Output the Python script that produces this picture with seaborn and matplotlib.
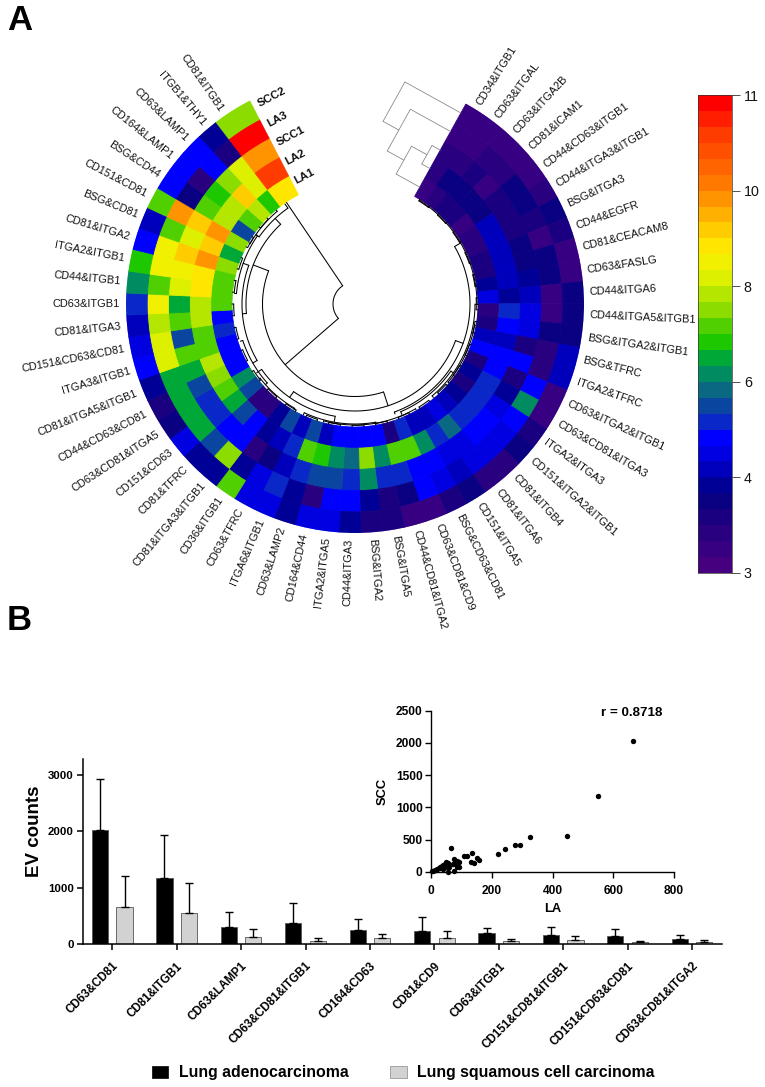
import numpy as np
import pandas as pd
import seaborn as sns
import matplotlib
matplotlib.use("Agg")
import matplotlib.pyplot as plt
from matplotlib.colors import FuncNorm, ListedColormap
from matplotlib.patches import Patch

# ---- panel A data: columns run clockwise from the gap at the top
combos = ["CD34&ITGB1", "CD63&ITGAL", "CD63&ITGA2B", "CD81&ICAM1", "CD44&CD63&ITGB1", "CD44&ITGA3&ITGB1",
          "BSG&ITGA3", "CD44&EGFR", "CD81&CEACAM8", "CD63&FASLG", "CD44&ITGA6", "CD44&ITGA5&ITGB1",
          "BSG&ITGA2&ITGB1", "BSG&TFRC", "ITGA2&TFRC", "CD63&ITGA2&ITGB1", "CD63&CD81&ITGA3", "ITGA2&ITGA3",
          "CD151&ITGA2&ITGB1", "CD81&ITGB4", "CD81&ITGA6", "CD151&ITGA5", "BSG&CD63&CD81", "CD63&CD81&CD9",
          "CD44&CD81&ITGA2", "BSG&ITGA5", "BSG&ITGA2", "CD44&ITGA3", "ITGA2&ITGA5", "CD164&CD44",
          "CD63&LAMP2", "ITGA6&ITGB1", "CD63&TFRC", "CD36&ITGB1", "CD81&ITGA3&ITGB1", "CD81&TFRC",
          "CD151&CD63", "CD63&CD81&ITGA5", "CD44&CD63&CD81", "CD81&ITGA5&ITGB1", "ITGA3&ITGB1",
          "CD151&CD63&CD81", "CD81&ITGA3", "CD63&ITGB1", "CD44&ITGB1", "ITGA2&ITGB1", "CD81&ITGA2",
          "BSG&CD81", "CD151&CD81", "BSG&CD44", "CD164&LAMP1", "CD63&LAMP1", "ITGB1&THY1", "CD81&ITGB1"]

la1 = [3.3, 3.4, 3.5, 3.5, 3.3, 3.4, 3.4, 3.5, 3.6, 3.9, 4.6, 3.4, 3.6, 4.0, 4.8, 3.6, 3.9, 3.5,
       3.9, 4.0, 4.5, 4.3, 4.0, 5.0, 3.6, 4.8, 4.9, 4.9, 4.9, 4.2, 5.5, 4.2, 5.5, 3.9, 3.4, 3.4,
       5.5, 6.3, 4.9, 4.9, 4.8, 5.3, 4.9, 7.0, 7.0, 7.1, 7.4, 6.5, 7.6, 5.5, 7.2, 7.9, 6.9, 8.9]
la2 = [3.4, 3.7, 3.8, 3.7, 3.7, 4.2, 4.3, 4.2, 4.2, 4.0, 3.9, 5.3, 4.8, 4.0, 4.7, 4.8, 5.0, 5.0,
       5.0, 5.2, 5.7, 5.0, 6.3, 7.2, 7.2, 6.3, 7.5, 5.7, 6.3, 6.7, 7.0, 5.0, 4.0, 3.9, 4.7, 5.5,
       6.5, 7.3, 7.4, 7.7, 7.0, 7.2, 7.9, 7.7, 8.7, 8.9, 9.8, 9.2, 9.7, 7.7, 7.7, 9.3, 8.3, 10.5]
scc1 = [3.4, 3.4, 3.5, 3.3, 3.5, 3.5, 3.6, 3.8, 3.8, 3.9, 4.0, 4.6, 4.5, 3.6, 4.7, 3.6, 3.9, 4.4,
        4.8, 4.9, 4.6, 4.6, 4.7, 4.9, 5.0, 5.1, 6.2, 5.0, 5.6, 5.6, 5.1, 4.3, 3.8, 3.4, 4.9, 4.9,
        5.0, 5.0, 5.5, 6.6, 7.0, 5.4, 7.2, 6.5, 8.0, 8.6, 9.3, 8.2, 9.1, 7.2, 6.9, 7.6, 8.1, 9.7]
la3 = [3.3, 3.3, 3.4, 3.4, 3.7, 3.7, 3.5, 3.3, 3.8, 3.8, 3.3, 3.3, 3.8, 3.4, 3.4, 4.7, 6.2, 4.7,
       4.6, 4.6, 4.4, 4.3, 4.6, 4.7, 3.8, 3.6, 3.9, 4.7, 4.7, 3.4, 3.9, 5.0, 4.6, 3.9, 7.5, 5.4,
       6.6, 6.6, 6.6, 6.6, 8.3, 8.3, 7.9, 8.6, 7.2, 8.5, 8.6, 7.2, 9.9, 3.8, 3.4, 4.7, 3.5, 10.9]
scc2 = [3.2, 3.2, 3.3, 3.3, 3.3, 3.4, 3.7, 3.6, 3.3, 3.3, 3.8, 3.8, 3.8, 4.0, 4.3, 3.2, 3.3, 3.6,
        3.7, 3.4, 3.4, 3.8, 3.5, 3.3, 3.3, 3.5, 3.5, 3.9, 4.4, 4.4, 3.9, 4.6, 4.6, 7.2, 3.9, 3.9,
        4.6, 3.7, 3.6, 3.9, 4.9, 4.6, 4.0, 5.3, 6.0, 6.9, 4.9, 4.0, 7.0, 4.9, 4.8, 4.8, 3.9, 7.4]
ring_names = ["LA1", "LA2", "SCC1", "LA3", "SCC2"]

# colorbar steps, bottom to top, and its unevenly spaced tick labels
heat_colors = ["#46007f", "#370082", "#280080", "#1a0080", "#0a0082", "#000096", "#0000bc", "#0000e0",
               "#0000ff", "#0a28c8", "#0a46a0", "#0a6882", "#008c60", "#00a838", "#1ec800", "#50d000",
               "#8cdc00", "#b4e600", "#dcf000", "#f0f000", "#ffe600", "#ffcc00", "#ffb000", "#ff9400",
               "#ff7800", "#ff6400", "#ff5000", "#ff3c00", "#ff1e00", "#ff0000"]
cbar_ticks = [3, 4, 6, 8, 10, 11]

# dendrogram of the columns: (angle1, angle2, radius, radius of end1, radius of end2)
col_tree = [(229, 326, 22, 92.5, 122.5), (162, 291, 92.5, 107, 109), (110, 215, 107, 115, 114),
            (60, 160, 115, 122, 117), (265, 317, 109, 113, 117), (240, 290, 113, 118, 119),
            (228, 252, 118, 120.5, 120.5), (275, 305, 119, 121, 121), (305, 325, 117, 120.5, 122),
            (190, 235, 114, 120, 120), (170, 205, 120, 122, 122), (125, 157, 117, 120, 120),
            (150, 195, 121, 122, 122), (32, 90, 122, 122.5, 122.5), (90, 140, 120, 122, 122),
            (100, 130, 121.5, 122.5, 122.5), (210, 232, 120.5, 122, 122), (300, 320, 121, 122.5, 122.5)]
# dendrogram of the rings: heights of the merges, innermost merge first
ring_merges = [("SCC1", "LA2", 9.5), (None, "LA1", 27), (None, "LA3", 46), (None, "SCC2", 64)]

# ---- panel B data
markers = ["CD63&CD81", "CD81&ITGB1", "CD63&LAMP1", "CD63&CD81&ITGB1", "CD164&CD63", "CD81&CD9", "CD63&ITGB1",
           "CD151&CD81&ITGB1", "CD151&CD63&CD81", "CD63&CD81&ITGA2"]
la_mean = [2020, 1180, 295, 365, 240, 237, 190, 160, 142, 95]
la_top = [2930, 1930, 565, 720, 435, 474, 290, 307, 266, 165]
scc_mean = [660, 555, 125, 60, 110, 100, 60, 70, 41, 30]
scc_top = [1210, 1090, 260, 105, 170, 237, 90, 150, 60, 65]

scatter_la = [664, 549, 447, 327, 293, 276, 244, 219, 157, 151, 142, 132, 136, 117, 110, 66, 93, 85, 77, 79,
              93, 85, 74, 77, 57, 49, 57, 55, 41, 30, 19, 8, 12, 25, 35, 45, 52, 60, 4, 15, 28, 38]
scatter_scc = [2025, 1183, 553, 542, 424, 424, 351, 274, 191, 222, 145, 150, 294, 248, 248, 367, 160, 176, 201,
               134, 83, 83, 124, 21, 134, 160, 57, 5, 108, 72, 46, 21, 30, 55, 95, 120, 100, 70, 8, 25, 60, 40]

W, H = 765, 1087
CX, CY = 355, 304
R_OUT, R_IN = 229, 123
START, STEP, END = 29, 5.54, 332.6


def box(x0, y0, x1, y1):
    # pixel box of the picture (y down) to figure fractions
    return [x0 / W, 1 - y1 / H, (x1 - x0) / W, (y1 - y0) / H]


def rows_to_polar(s, d):
    # position along the heatmap edge + distance away from it, as polar coords
    return np.radians(START) - np.arctan2(d, s), np.hypot(s, d)


sns.set_theme(style="ticks")
plt.rcParams["font.family"] = ["Liberation Sans", "DejaVu Sans"]

fig = plt.figure(figsize=(W / 100, H / 100), dpi=100)

# ---- circular heatmap
values = np.array([la1, la2, scc1, la3, scc2])
cmap = ListedColormap(heat_colors)
anchors_v = [3, 4, 6, 8, 10, 11]
anchors_p = [0, 0.2, 0.4, 0.6, 0.8, 1]
norm = FuncNorm((lambda v: np.interp(v, anchors_v, anchors_p), lambda p: np.interp(p, anchors_p, anchors_v)),
                vmin=3, vmax=11)

ax = fig.add_axes(box(CX - R_OUT, CY - R_OUT, CX + R_OUT, CY + R_OUT), projection="polar")
ax.set_theta_zero_location("N")
ax.set_theta_direction(-1)
n_col = len(combos)
edges = START + STEP * np.arange(n_col + 1)
edges[-1] = END  # last column runs a little wider up to the row names
r_edges = np.linspace(R_IN, R_OUT, len(ring_names) + 1)
for row in range(values.shape[0]):
    cols = cmap(norm(values[row]))
    ax.bar(np.radians(edges[:-1]), r_edges[row + 1] - r_edges[row], width=np.radians(np.diff(edges)),
           bottom=r_edges[row], align="edge", color=cols, edgecolor=cols, linewidth=0.6)
ax.set_ylim(0, R_OUT)
ax.axis("off")

for i, name in enumerate(combos):
    angle = START + STEP * (i + 0.5)
    if angle < 180:
        rot, ha = 90 - angle, "left"
    else:
        rot, ha = 270 - angle, "right"
    ax.text(np.radians(angle), 235, name, rotation=rot, rotation_mode="anchor", ha=ha, va="center",
            fontsize=7.9, color="#111111")

r_mid = (r_edges[:-1] + r_edges[1:]) / 2
for name, r in zip(ring_names, r_mid):
    ax.text(np.radians(END + 1.5), r + 3, name, rotation=28, rotation_mode="anchor", ha="left",
            va="center", fontsize=8.2, fontweight="bold", color="#111111")

for a, b, r, r1, r2 in col_tree:
    ax.plot(np.radians(np.linspace(a, b, 80)), np.full(80, r), color="black", lw=0.75)
    ax.plot(np.radians([a, a]), [r, r1], color="black", lw=0.75)
    ax.plot(np.radians([b, b]), [r, r2], color="black", lw=0.75)

# pairs of neighbouring leaves right at the inner edge
for i in range(0, n_col - 2, 2):
    a, b = START + STEP * (i + 0.5), START + STEP * (i + 1.5)
    ax.plot(np.radians(np.linspace(a, b, 10)), np.full(10, 121.3), color="black", lw=0.75)
    ax.plot(np.radians([a, a]), [121.3, 123], color="black", lw=0.75)
    ax.plot(np.radians([b, b]), [121.3, 123], color="black", lw=0.75)

# grey ring dendrogram, straight lines square to the heatmap edge
ring_pos = dict(zip(ring_names, r_mid))
cur_s, cur_d = None, 0
for first, second, height in ring_merges:
    if first is None:
        s1, d1 = cur_s, cur_d
    else:
        s1, d1 = ring_pos[first], 0
    s2, d2 = ring_pos[second], 0
    for s, d in [(s1, d1), (s2, d2)]:
        t, r = rows_to_polar(np.array([s, s]), np.array([d, height]))
        ax.plot(t, r, color="#8c8c8c", lw=0.6)
    t, r = rows_to_polar(np.array([s1, s2]), np.array([height, height]))
    ax.plot(t, r, color="#8c8c8c", lw=0.6)
    cur_s, cur_d = (s1 + s2) / 2, height

# colorbar, drawn as a one column heatmap of the steps
cax = fig.add_axes(box(698, 95, 732, 573))
steps = np.arange(len(heat_colors))[::-1].reshape(-1, 1)
sns.heatmap(steps, cmap=cmap, cbar=False, ax=cax, xticklabels=False, yticklabels=False)
cax.yaxis.tick_right()
cax.set_yticks(np.linspace(len(heat_colors), 0, len(cbar_ticks)), [str(t) for t in cbar_ticks], fontsize=10.3,
               rotation=0, color="#111111")
cax.tick_params(axis="y", length=5.5, width=0.6, color="#333333", pad=3, right=True, left=False)
for side in cax.spines.values():
    side.set_visible(True)
    side.set_linewidth(0.5)
    side.set_color("#333333")

# ---- bars
bars = pd.DataFrame({
    "marker": markers * 2,
    "group": ["LA"] * len(markers) + ["SCC"] * len(markers),
    "count": la_mean + scc_mean,
    "top": la_top + scc_top,
})
bar_ax = fig.add_axes(box(83, 759, 721.7, 944))
sns.barplot(data=bars, x="marker", y="count", hue="group", order=markers, hue_order=["LA", "SCC"],
            palette={"LA": "black", "SCC": "#d2d2d2"}, width=0.76, gap=0.34, errorbar=None, legend=False,
            edgecolor="#555555", linewidth=0.6, ax=bar_ax)
tops = la_top + scc_top
for patch, top in zip(bar_ax.patches, tops):
    x = patch.get_x() + patch.get_width() / 2
    h = patch.get_height()
    bar_ax.errorbar(x, h, yerr=[[0], [top - h]], color="black", lw=1.0, capsize=3, capthick=1.0, zorder=1)
bar_ax.set_xlim(-0.455, 9.46)
bar_ax.set_ylim(0, 3284)
bar_ax.set_yticks([0, 1000, 2000, 3000])
bar_ax.set_xlabel("")
bar_ax.set_ylabel("EV counts", fontsize=13.5, fontweight="bold", color="black")
bar_ax.yaxis.set_label_coords(-0.063, 0.61)
bar_ax.set_xticks(range(len(markers)))
bar_ax.set_xticklabels(markers, rotation=45, ha="right", rotation_mode="anchor", fontsize=8.4, fontweight="bold",
                       color="black")
bar_ax.tick_params(axis="x", length=4.5, width=1.1, pad=7, color="black")
bar_ax.tick_params(axis="y", length=4.5, width=1.1, pad=2, color="black")
for lab in bar_ax.get_yticklabels():
    lab.set_fontsize(8.2)
    lab.set_fontweight("bold")
    lab.set_color("black")
sns.despine(ax=bar_ax)
bar_ax.spines["left"].set_linewidth(1.1)
bar_ax.spines["bottom"].set_linewidth(1.1)
bar_ax.spines["left"].set_color("black")
bar_ax.spines["bottom"].set_color("black")
bar_ax.patch.set_alpha(0)

# ---- inset scatter
ins = fig.add_axes(box(431, 710.7, 674, 872))
ins.patch.set_alpha(0)
sns.scatterplot(x=scatter_la, y=scatter_scc, color="black", s=15, linewidth=0, ax=ins, clip_on=False)
ins.set_xlim(0, 800)
ins.set_ylim(0, 2500)
ins.set_xticks([0, 200, 400, 600, 800])
ins.set_yticks([0, 500, 1000, 1500, 2000, 2500])
ins.set_xlabel("LA", fontsize=9.3, fontweight="bold", color="black")
ins.set_ylabel("SCC", fontsize=9.3, fontweight="bold", color="black")
ins.xaxis.set_label_coords(0.5, -0.19)
ins.yaxis.set_label_coords(-0.173, 0.5)
ins.tick_params(axis="x", length=4, width=1.0, pad=5, color="black")
ins.tick_params(axis="y", length=4, width=1.0, pad=2, color="black")
for lab in ins.get_xticklabels() + ins.get_yticklabels():
    lab.set_fontsize(8.6)
    lab.set_fontweight("bold")
    lab.set_color("black")
sns.despine(ax=ins)
ins.spines["left"].set_linewidth(1.0)
ins.spines["bottom"].set_linewidth(1.0)
ins.spines["left"].set_color("black")
ins.spines["bottom"].set_color("black")
fig.text(601 / W, 1 - 713 / H, "r = 0.8718", fontsize=9.6, fontweight="bold", va="center", color="black")

# ---- legend and panel letters
handles = [Patch(facecolor="black", edgecolor="black", linewidth=0.5),
           Patch(facecolor="#d2d2d2", edgecolor="#888888", linewidth=0.5)]
fig.legend(handles, ["Lung adenocarcinoma", "Lung squamous cell carcinoma"], ncol=2, frameon=False,
           loc="center left", bbox_to_anchor=(137.5 / W, 1 - 1073 / H),
           prop={"size": 11.4, "weight": "bold"}, handlelength=1.05, handleheight=0.8, handletextpad=0.65,
           columnspacing=2.65, labelcolor="black")

fig.text(7 / W, 1 - 20 / H, "A", fontsize=25, fontweight="bold", va="center", color="black")
fig.text(7 / W, 1 - 621 / H, "B", fontsize=25, fontweight="bold", va="center", color="black")

fig.savefig("out.png", dpi=100)
